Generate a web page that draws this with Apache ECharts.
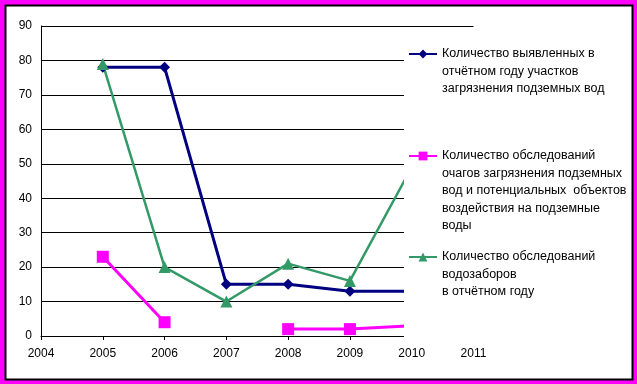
<!DOCTYPE html>
<html>
<head>
<meta charset="utf-8">
<script src="https://cdn.jsdelivr.net/npm/echarts@6/dist/echarts.min.js"></script>
<style>
html,body{margin:0;padding:0;background:#fff;}
#chart{width:637px;height:384px;}
</style>
</head>
<body>
<div id="chart"></div>
<script>
var years = [2005, 2006, 2007, 2008, 2009, 2010];
var seriesNames = [
  'Количество выявленных в\nотчётном году участков\nзагрязнения подземных вод',
  'Количество обследований\nочагов загрязнения подземных\nвод и потенциальных  объектов\nвоздействия на подземные\nводы',
  'Количество обследований\nводозаборов\nв отчётном году'
];
var detected = [78, 78, 15, 15, 13, 13];
var surveyedSources = [23, 4, null, 2, 2, 3];
var surveyedIntakes = [79, 20, 10, 21, 16, 49];
var xTicks = [2004, 2005, 2006, 2007, 2008, 2009, 2010, 2011];
var yTicks = [0, 10, 20, 30, 40, 50, 60, 70, 80, 90];

function pairs(vals) {
  return years.map(function (y, i) { return [y, vals[i]]; });
}
function padName(name) {
  var n = name.split('\n').length;
  var pre = '';
  for (var i = 0; i < n - 1; i++) pre += '\n';
  return pre + name;
}
var LH = 17.5;
function legendTop(name, iconY) {
  var n = name.split('\n').length;
  return iconY - (2 * n - 1) * LH / 2;
}
var font = 'Liberation Sans, Arial, sans-serif';
var chart = echarts.init(document.getElementById('chart'), null, {renderer: 'canvas'});
var legendIconY = [54, 156, 257];
var legends = seriesNames.map(function (nm, i) {
  return {
    data: [nm],
    left: 408,
    top: legendTop(nm, legendIconY[i]),
    orient: 'vertical',
    padding: 0,
    itemWidth: 28,
    itemHeight: 11,
    itemGap: 0,
    z: 10,
    selectedMode: false,
    formatter: function (name) { return padName(name); },
    textStyle: {fontFamily: font, fontSize: 12.5, color: '#000', lineHeight: LH}
  };
});
var option = {
  backgroundColor: '#ff00ff',
  animation: false,
  graphic: [
    {type: 'rect', z: -10, shape: {x: 5.5, y: 5.5, width: 627, height: 374},
     style: {fill: '#fff', stroke: '#000', lineWidth: 2}},
    {type: 'rect', z: 3, shape: {x: 404, y: 28, width: 227, height: 314},
     style: {fill: '#fff'}}
  ],
  grid: {left: 41, top: 26, right: 163.5, bottom: 48, containLabel: false},
  legend: legends,
  xAxis: {
    type: 'value', min: xTicks[0], max: xTicks[xTicks.length - 1], interval: 1,
    axisLine: {show: true, onZero: false, lineStyle: {color: '#000', width: 1}},
    axisTick: {show: true, length: 4, lineStyle: {color: '#000'}},
    axisLabel: {fontFamily: font, fontSize: 12, color: '#000', margin: 12,
      formatter: function (v) { return String(v); }},
    splitLine: {show: false}
  },
  yAxis: {
    type: 'value', min: yTicks[0], max: yTicks[yTicks.length - 1], interval: 10,
    axisLine: {show: true, lineStyle: {color: '#000', width: 1}},
    axisTick: {show: false},
    axisLabel: {fontFamily: font, fontSize: 12, color: '#000', margin: 9},
    splitLine: {show: true, lineStyle: {color: '#000', width: 1}}
  },
  series: [
    {name: seriesNames[0], type: 'line', data: pairs(detected), color: '#000080',
     symbol: 'diamond', symbolSize: 11, lineStyle: {width: 3, color: '#000080'},
     itemStyle: {color: '#000080'}, z: 2},
    {name: seriesNames[1], type: 'line', data: pairs(surveyedSources), color: '#ff00ff',
     symbol: 'rect', symbolSize: 12, lineStyle: {width: 3, color: '#ff00ff'},
     itemStyle: {color: '#ff00ff'}, connectNulls: false, z: 2},
    {name: seriesNames[2], type: 'line', data: pairs(surveyedIntakes), color: '#339966',
     symbol: 'triangle', symbolSize: 12, lineStyle: {width: 2.5, color: '#339966'},
     itemStyle: {color: '#339966'}, z: 2}
  ]
};
chart.setOption(option);
</script>
</body>
</html>
